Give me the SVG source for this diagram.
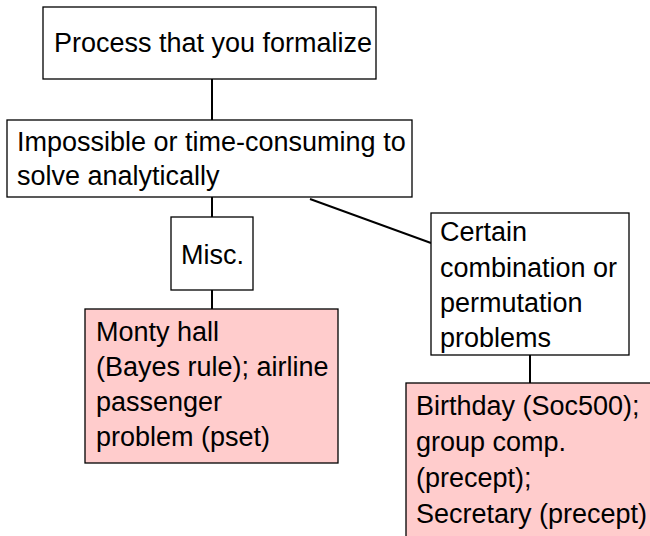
<svg xmlns="http://www.w3.org/2000/svg" width="650" height="536" viewBox="0 0 650 536">
<style>
.box{fill:#ffffff;stroke:#000;stroke-width:1.3}
.pink{fill:#ffcccc;stroke:#000;stroke-width:1.3}
.t{font-family:"Liberation Sans","DejaVu Sans",sans-serif;font-size:27px;fill:#000}
.c{stroke:#000;stroke-width:2;fill:none}
</style>
<rect width="650" height="536" fill="#fff"/>
<g id="connectors">
<line class="c" x1="212" y1="79" x2="212" y2="120"/>
<line class="c" x1="212" y1="197" x2="212" y2="217"/>
<line class="c" x1="310" y1="199" x2="431" y2="243"/>
<line class="c" x1="212" y1="290" x2="212" y2="309"/>
<line class="c" x1="530" y1="355" x2="530" y2="383"/>
</g>
<g id="n1">
<rect class="box" x="43" y="7" width="333" height="72"/>
<text class="t" x="54" y="52">Process that you formalize</text>
</g>
<g id="n2">
<rect class="box" x="7" y="120" width="405" height="77"/>
<text class="t" x="17" y="151">Impossible or time-consuming to</text>
<text class="t" x="17" y="185">solve analytically</text>
</g>
<g id="n3">
<rect class="box" x="171" y="217" width="82" height="73"/>
<text class="t" x="181" y="264">Misc.</text>
</g>
<g id="n4">
<rect class="box" x="431" y="213" width="198" height="142"/>
<text class="t" x="440" y="241">Certain</text>
<text class="t" x="440" y="277">combination or</text>
<text class="t" x="440" y="312">permutation</text>
<text class="t" x="440" y="347">problems</text>
</g>
<g id="n5">
<rect class="pink" x="85" y="309" width="253" height="154"/>
<text class="t" x="96" y="341">Monty hall</text>
<text class="t" x="96" y="376">(Bayes rule); airline</text>
<text class="t" x="96" y="411">passenger</text>
<text class="t" x="96" y="446">problem (pset)</text>
</g>
<g id="n6">
<rect class="pink" x="406" y="383" width="260" height="170"/>
<text class="t" x="416" y="415">Birthday (Soc500);</text>
<text class="t" x="416" y="451">group comp.</text>
<text class="t" x="416" y="487">(precept);</text>
<text class="t" x="416" y="523">Secretary (precept)</text>
</g>
</svg>
